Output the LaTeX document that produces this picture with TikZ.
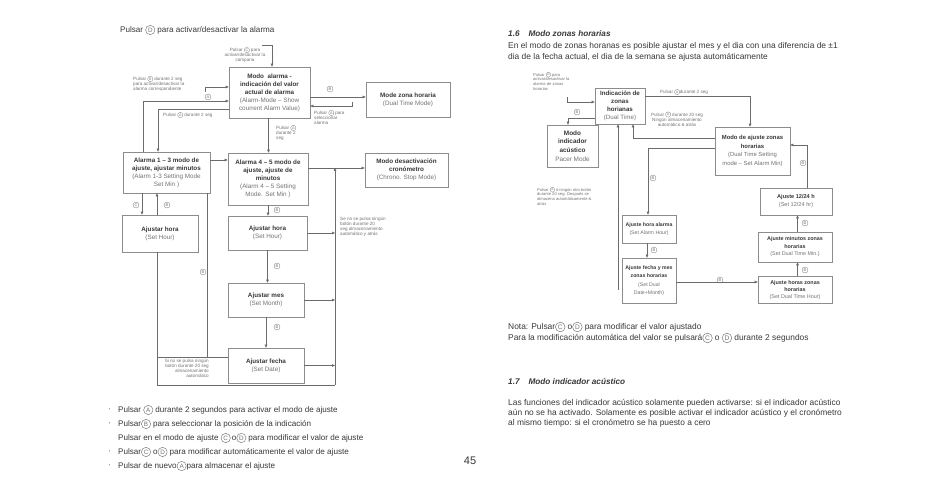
\documentclass[tikz,border=0pt]{standalone}
\usepackage{fontspec}
\usepackage{graphicx}
\setmainfont{Liberation Sans}
\usetikzlibrary{arrows.meta,shadows}
\definecolor{ink}{gray}{0.22}
\definecolor{soft}{gray}{0.45}
\definecolor{linec}{gray}{0.42}
\definecolor{boxc}{gray}{0.55}
\newcommand\cc[1]{\tikz[baseline=-0.33em]\node[circle, draw=soft, line width=0.055em, inner sep=0pt, minimum width=1.15em, minimum height=1.15em, anchor=center, text=soft]{\scalebox{0.78}{#1}};}
\newcommand\ccA{\cc{A}}
\newcommand\ccB{\cc{B}}
\newcommand\ccC{\cc{C}}
\newcommand\ccD{\cc{D}}
\newcommand\bb[1]{\textbf{\textcolor{ink}{#1}}}
\tikzset{
  bx/.style={draw=boxc, line width=0.6pt, fill=white, align=center, inner sep=0.5pt, text=soft,
    drop shadow={shadow xshift=1pt, shadow yshift=-1pt, fill=black!22, opacity=1},
    font=\fontsize{6.3}{8}\selectfont},
  bxr/.style={bx, font=\fontsize{5.6}{8}\selectfont},
  ln/.style={draw=linec, line width=0.55pt},
  arr/.style={ln, -{Triangle[length=3pt,width=2.6pt]}},
  sm/.style={inner sep=0pt, text=soft, align=left, font=\fontsize{4.6}{5.1}\selectfont},
  smr/.style={inner sep=0pt, text=soft, align=left, font=\fontsize{4.1}{4.7}\selectfont},
  lab/.style={inner sep=0pt, text=soft, font=\fontsize{5.2}{5.2}\selectfont},
  body/.style={inner sep=0pt, anchor=west, text=ink, font=\fontsize{8.1}{9}\selectfont},
  bodyr/.style={body, font=\fontsize{8.4}{9}\selectfont},
}
\begin{document}
\begin{tikzpicture}[x=1pt,y=-1pt]
\path[fill=white] (0,0) rectangle (950,502);
\useasboundingbox (0,0) rectangle (950,502);

% ---------------- LEFT PAGE ----------------
\node[body] (t1) at (120,30) {Pulsar \ccD\ para activar/desactivar la alarma};

\node[bx, minimum width=81pt, minimum height=51pt] (ma) at (269.5,92.5)
  {\bb{Modo\ \ alarma -}\\\bb{indicación del valor}\\\bb{actual de alarma}\\(Alarm-Mode – Show\\courrent Alarm Value)};
\node[bx, minimum width=84pt, minimum height=35pt] (zh) at (408,100)
  {\bb{Mode zona horaria}\\(Dual Time Mode)};
\node[bx, minimum width=87pt, minimum height=41pt] (a13) at (166.5,172.5)
  {\bb{Alarma 1 – 3 modo de}\\\bb{ajuste, ajustar minutos}\\(Alarm 1-3 Setting Mode\\Set Min )};
\node[bx, minimum width=80pt, minimum height=52pt] (a45) at (268,179)
  {\bb{Alarma 4 – 5 modo de}\\\bb{ajuste, ajuste de}\\\bb{minutos}\\(Alarm 4 – 5 Setting\\Mode. Set Min )};
\node[bx, minimum width=83pt, minimum height=34pt] (cs) at (406.5,170)
  {\bb{Modo desactivación}\\\bb{cronómetro}\\(Chrono. Stop Mode)};
\node[bx, minimum width=76pt, minimum height=37pt] (ah1) at (160,233.5)
  {\bb{Ajustar hora}\\(Set Hour)};
\node[bx, minimum width=79pt, minimum height=34pt] (ah2) at (267.5,233)
  {\bb{Ajustar hora}\\(Set Hour)};
\node[bx, minimum width=76pt, minimum height=34pt] (am) at (266,300)
  {\bb{Ajustar mes}\\(Set Month)};
\node[bx, minimum width=76pt, minimum height=35pt] (af) at (266,365.5)
  {\bb{Ajustar fecha}\\(Set Date)};

% labels
\node[sm, align=center] (lc) at (245,55) {Pulsar \ccC\ para\\activar/desactivar la\\campana};
\node[sm, anchor=north west] (ld) at (133,76) {Pulsar \ccD\ durante 2 seg\\para activar/desactivar la\\alarma correspondiente};
\node[lab] (la1) at (208,97) {\ccA};
\node[sm, anchor=west] (l2s) at (163,115) {Pulsar \ccA\ durante 2 seg};
\node[lab] (lb1) at (330,89) {\ccB};
\node[sm, anchor=north west] (lsel) at (314,110) {Pulsar \ccA\ para\\seleccionar\\alarma};
\node[sm, anchor=north west] (l2s2) at (276,125) {Pulsar \ccA\\durante 2\\seg};
\node[lab] (lb2) at (277,210) {\ccB};
\node[lab] (lb3) at (277,266) {\ccB};
\node[lab] (lb4) at (277,327) {\ccB};
\node[lab] (lc1) at (136,205) {\ccC};
\node[lab] (lb5) at (167,205) {\ccB};
\node[lab] (lb6) at (203,272) {\ccB};
\node[sm, anchor=north west] (nr) at (340,217) {Se no se pulsa ningún\\botón durante 20\\seg almacenamiento\\automático y atrás};
\node[sm, anchor=north east, align=right] (nl) at (209,359) {Si no se pulsa ningún\\botón durante 20 seg\\almacenamiento\\automático};

% connectors
\coordinate (c0) at (262,45);
\draw[arr] (c0) -| ([xshift=2.5pt]ma.north);
\coordinate (c1) at (205,92);
\draw[arr] (c1) |- ([yshift=5.5pt]ma.west);
\draw[arr] ([xshift=-23.5pt]a13.north) |- ([yshift=-8.5pt]ma.west);
\draw[arr] ([yshift=-16.5pt]ma.west) -| ([xshift=-8.5pt]a13.north);
\coordinate (p1) at ([yshift=-4.5pt]ma.east);
\draw[arr] (p1) -- (p1 -| zh.west);
\coordinate (c2) at (352,102);
\draw[arr] (c2) |- ([yshift=-13.5pt]ma.east);
\draw[arr] ([xshift=-1pt]ma.south) -- ([xshift=-1pt]ma.south |- a45.north);
\coordinate (p2) at ([yshift=12.5pt]a13.east);
\draw[arr] (p2) -- (p2 -| a45.west);
\coordinate (p3) at ([yshift=11pt]a45.east);
\draw[arr] (p3) -- (p3 -| cs.west);
\coordinate (bus) at (335,385);
\draw[arr] (bus) -- (bus |- p3);
\draw[arr] (ah2.east) -- (ah2.east -| bus);
\draw[arr] (am.east) -- (am.east -| bus);
\draw[arr] (af.east) -- (af.east -| bus);
\draw[arr] (a45.south) -- (a45.south |- ah2.north);
\draw[arr] (ah2.south) -- (ah2.south |- am.north);
\draw[arr] (am.south) -- (am.south |- af.north);
\coordinate (p4) at ([xshift=-24.5pt]a13.south);
\draw[arr] (p4) -- (p4 |- ah1.north);
\coordinate (p5) at ([xshift=-3pt]ah1.north);
\draw[arr] (p5) -- (p5 |- a13.south);
\draw[ln] ([xshift=-3pt]ah1.south) |- (bus);
\coordinate (p6) at ([xshift=40.5pt]a13.south);
\draw[ln] (p6) |- ([yshift=8.5pt]af.west);
\coordinate (n0) at (157,357);
\draw[ln] (n0) -- (n0 -| p6);

% bullets
\node[body] (b1) at (108,410) {·};
\node[body] (b1t) at (118,410) {Pulsar \ccA\ durante 2 segundos para activar el modo de ajuste};
\node[body] (b2) at (108,424) {·};
\node[body] (b2t) at (118,424) {Pulsar\ccB\ para seleccionar la posición de la indicación};
\node[body] (b3t) at (118,438) {Pulsar en el modo de ajuste \ccC\,o\ccD\ para modificar el valor de ajuste};
\node[body] (b4) at (108,452) {·};
\node[body] (b4t) at (118,452) {Pulsar\ccC\ o\ccD\ para modificar automáticamente el valor de ajuste};
\node[body] (b5) at (108,466) {·};
\node[body] (b5t) at (118,466) {Pulsar de nuevo\ccA para almacenar el ajuste};
\node[inner sep=0pt, text=ink, font=\fontsize{11}{11}\selectfont] (pg) at (470,461) {45};

% ---------------- RIGHT PAGE ----------------
\node[bodyr, font=\fontsize{8.2}{9}\selectfont\bfseries\itshape] (h16) at (508,34) {1.6\hspace{9pt}Modo zonas horarias};
\node[bodyr] (p16a) at (508,46) {En el modo de zonas horanas es posible ajustar el mes y el dia con una diferencia de ±1};
\node[bodyr] (p16b) at (508,57) {dia de la fecha actual, el dia de la semana se ajusta automáticamente};

\node[bx, font=\fontsize{6.2}{8}\selectfont, minimum width=50pt, minimum height=36pt] (ind) at (620,106)
  {\bb{Indicación de}\\\bb{zonas}\\\bb{horianas}\\(Dual Time)};
\node[bx, font=\fontsize{6.4}{8.8}\selectfont, minimum width=51pt, minimum height=42pt] (pac) at (572.5,146)
  {\bb{Modo}\\\bb{indicador}\\\bb{acústico}\\Pacer Mode};
\node[bx, font=\fontsize{5.9}{8.4}\selectfont, minimum width=75pt, minimum height=48pt] (mas) at (752.5,151)
  {\bb{Modo de ajuste zonas}\\\bb{horarias}\\(Dual Time Setting\\mode – Set Alarm Min)};
\node[bxr, minimum width=72pt, minimum height=27pt] (t24) at (796,201.5)
  {\bb{Ajuste 12/24 h}\\(Set 12/24 hr)};
\node[bxr, font=\fontsize{5.4}{7.5}\selectfont, minimum width=74pt, minimum height=30pt] (amz) at (795,247)
  {\bb{Ajuste minutos zonas}\\\bb{horarias}\\(Set Dual Time Min.)};
\node[bxr, font=\fontsize{5.4}{7.2}\selectfont, minimum width=74pt, minimum height=27pt] (ahz) at (795,290)
  {\bb{Ajuste horas zonas}\\\bb{horarias}\\(Set Dual Time Hour)};
\node[bxr, font=\fontsize{5.2}{8}\selectfont, minimum width=54pt, minimum height=28pt] (aha) at (649,229)
  {\bb{Ajuste hora alarma}\\(Set Alarm Hour)};
\node[bxr, font=\fontsize{5.2}{8.5}\selectfont, minimum width=54pt, minimum height=45pt] (afm) at (649,280.5)
  {\bb{Ajuste fecha y mes}\\\bb{zonas horarias}\\(Set Dual\\Date+Month)};

\node[smr, anchor=north west] (rl1) at (533,72) {Pulsar \ccD\ para\\activar/desactivar la\\alarma de zonas\\horarias};
\node[lab] (rb1) at (577,112) {\ccB};
\node[sm] (rl2) at (684,92) {Pulsar \ccA durante 2 seg};
\node[sm, align=center] (rl3) at (677,119) {Pulsar \ccA\ durante 20 seg\\Ningún almacenamiento\\automático \& atrás};
\node[lab] (rb2) at (653,178) {\ccB};
\node[smr, anchor=north west] (rl4) at (537,187) {Pulsar \ccA\ ó ningún otro botón\\durante 20 seg. Después se\\almacena automáticamente \&\\atrás};
\node[lab] (rb3) at (654,250) {\ccB};
\node[lab] (rb4) at (720,280) {\ccB};
\node[lab] (rb5) at (805,270) {\ccB};
\node[lab] (rb6) at (805,223) {\ccB};
\node[lab] (rb7) at (803,163) {\ccB};

\coordinate (d0) at (567,97);
\draw[arr] (d0) |- ([yshift=4pt]ind.west);
\draw[arr] ([yshift=-12pt]ind.west) -| ([xshift=-4.5pt]pac.north);
\draw[arr] ([yshift=10pt]ind.east) -| ([xshift=-2.5pt]mas.north);
\draw[arr] ([yshift=13pt]mas.west) -| ([xshift=13pt]ind.south);
\draw[arr] ([yshift=3pt]mas.west) -| ([xshift=-1pt]aha.north);
\coordinate (d2) at (618,290);
\draw[arr] (d2) -- (d2 |- ind.south);
\draw[arr] ([xshift=-2pt]aha.south) -- ([xshift=-2pt]afm.north);
\coordinate (d3) at ([yshift=-1.5pt]afm.east);
\draw[arr] (d3) -- (d3 -| ahz.west);
\draw[arr] ([xshift=2.5pt]ahz.north) -- ([xshift=2.5pt]amz.south);
\draw[arr] ([xshift=2.5pt]amz.north) -- ([xshift=1.5pt]t24.south);
\draw[arr] ([xshift=11pt]t24.north) |- ([yshift=6pt]mas.east);

\node[bodyr] (nt1) at (508,327) {Nota: Pulsar\ccC\ o\ccD\ para modificar el valor ajustado};
\node[bodyr] (nt2) at (508,338) {Para la modificación automática del valor se pulsará\ccC\ o \ccD\ durante 2 segundos};
\node[bodyr, font=\fontsize{8.2}{9}\selectfont\bfseries\itshape] (h17) at (508,382) {1.7\hspace{9pt}Modo indicador acústico};
\node[bodyr] (q1) at (508,403) {Las funciones del indicador acústico solamente pueden activarse: si el indicador acústico};
\node[bodyr] (q2) at (508,413) {aún no se ha activado. Solamente es posible activar el indicador acústico y el cronómetro};
\node[bodyr] (q3) at (508,423) {al mismo tiempo: si el cronómetro se ha puesto a cero};
\end{tikzpicture}
\end{document}
